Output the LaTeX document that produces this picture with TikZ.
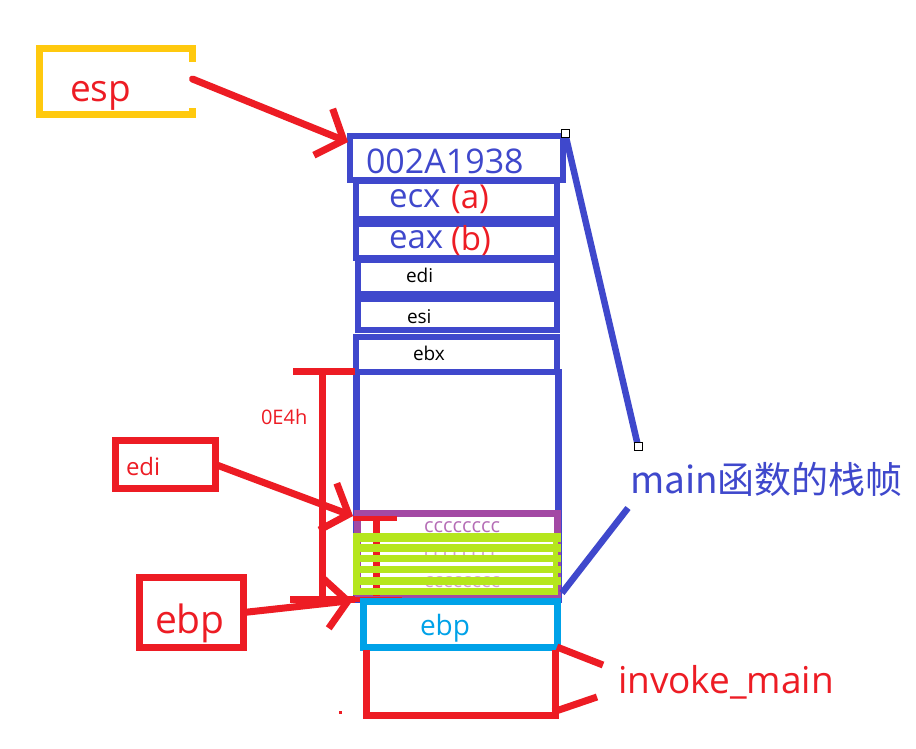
\documentclass[tikz,border=0pt]{standalone}
\usepackage{fontspec}
\setmainfont{Open Sans}
\newfontfamily\cjk{Noto Sans CJK SC}
\usetikzlibrary{arrows.meta}
\definecolor{myblue}{HTML}{3F48CC}
\definecolor{myred}{HTML}{ED1C24}
\definecolor{myyellow}{HTML}{FFC90E}
\definecolor{mycyan}{HTML}{00A2E8}
\definecolor{mypurple}{HTML}{A349A4}
\definecolor{mylime}{HTML}{B5E61D}
\definecolor{mypink}{HTML}{CFA0D0}
\tikzset{
  stackbox/.style={draw=myblue, line width=6.5pt, inner sep=0pt, outer sep=0pt},
  plainbox/.style={inner sep=0pt, outer sep=0pt},
  redline/.style={draw=myred, line width=7pt},
  redarrow/.style={draw=myred, line width=7pt, line cap=round, -{Straight Barb[length=22pt,width=50pt]}},
  bluelink/.style={draw=myblue, line width=6.5pt},
  txt/.style={inner sep=0pt, outer sep=0pt, anchor=base west},
  handle/.style={draw=black, fill=white, line width=1pt, minimum size=8pt, inner sep=0pt},
}
\begin{document}
\begin{tikzpicture}[x=1pt,y=-1pt]
\useasboundingbox[fill=white] (0,0) rectangle (916,748);

% ---- stack column (blue) ----
\node[stackbox, minimum width=202pt, minimum height=227.5pt] (frame) at (457.5,485.75) {};
\node[stackbox, minimum width=213pt, minimum height=44pt] (b0) at (456.5,158) {};
\node[stackbox, minimum width=201pt, minimum height=38pt] (b1) at (456.5,200) {};
\node[stackbox, minimum width=201pt, minimum height=34pt] (b2) at (456.5,241) {};
\node[stackbox, minimum width=199pt, minimum height=34pt] (b3) at (457.5,277) {};
\node[stackbox, minimum width=199pt, minimum height=31pt] (b4) at (457.5,314.5) {};
\node[stackbox, minimum width=201pt, minimum height=35pt] (b5) at (456.5,354.5) {};

\node[txt, text=myblue, font=\fontsize{34}{34}\selectfont] (t0) at (366,173) {002A1938};
\node[txt, text=myblue, font=\fontsize{33}{33}\selectfont] (t1) at (389,207) {ecx};
\node[txt, text=myred, font=\fontsize{33}{33}\selectfont] (t1a) at (451,208) {(a)};
\node[txt, text=myblue, font=\fontsize{33}{33}\selectfont] (t2) at (389,248) {eax};
\node[txt, text=myred, font=\fontsize{33}{33}\selectfont] (t2b) at (451,250) {(b)};
\node[txt, text=black, font=\fontsize{19}{19}\selectfont] (t3) at (406,282) {edi};
\node[txt, text=black, font=\fontsize{19}{19}\selectfont] (t4) at (407,323) {esi};
\node[txt, text=black, font=\fontsize{19}{19}\selectfont] (t5) at (413,360) {ebx};

% ---- purple cell ----
\node[plainbox, draw=mypurple, line width=7pt, minimum width=200pt, minimum height=84pt] (pbox) at (457,555) {};
\node[txt, text=mypurple!80, font=\fontsize{20}{20}\selectfont] (cc1) at (424,532) {cccccccc};
\node[txt, text=mypink, font=\fontsize{20}{20}\selectfont] (cc2) at (424,559) {cccccccc};
\node[txt, text=mypink, font=\fontsize{20}{20}\selectfont] (cc3) at (424,587) {cccccccc};

% red marks under the green
\draw[myred, line width=5pt] (353,518) -- (397,518);
\draw[myred, line width=7pt] (376.5,517) -- (376.5,596);

% ---- green bars ----
\fill[mylime] (353,533) rectangle (561,542);
\fill[mylime] (353,544) rectangle (561,552);
\fill[mylime] (353,555) rectangle (561,562);
\fill[mylime] (353,566) rectangle (561,573);
\fill[mylime] (353,577) rectangle (561,585);
\fill[mylime] (353,588) rectangle (558,595);
\fill[mylime] (353,533) rectangle (360,595);
\fill[mylime] (553,533) rectangle (558,595);

% ---- 0E4h bracket ----
\draw[redline] (293,371.5) -- (355,371.5);
\draw[redline] (322.5,371.5) -- (322.5,599);
\draw[redline] (290,599) -- (355,599);
\draw[myred, line width=5pt] (355,599.5) -- (402,599.5);
\node[txt, text=myred, font=\fontsize{20}{20}\selectfont] (l0e4) at (261,424) {0E4h};

% ---- ebp cell and caller frame ----
\node[plainbox, draw=mycyan, line width=7pt, minimum width=194pt, minimum height=46pt] (cyanbox) at (460,624) {};
\node[txt, text=mycyan, font=\fontsize{28}{28}\selectfont] (tebp) at (420,635) {ebp};
\coordinate (rtl) at (366.5,650);
\coordinate (rbl) at (366.5,715.5);
\coordinate (rbr) at (555.5,715.5);
\coordinate (rtr) at (555.5,650);
\draw[redline] (rtl) -- (rbl) -- (rbr) -- (rtr);
\node[txt, text=myred, font=\fontsize{37}{37}\selectfont] (invoke) at (618,693) {invoke\_main};
\coordinate (iu) at (603,665);
\coordinate (il) at (597,697);
\draw[myred, line width=7pt] (cyanbox.south east) -- (iu);
\draw[myred, line width=7pt] (553,712) -- (il);
\fill[myred] (339,711) rectangle (342,714);

% ---- pointer boxes ----
\node[plainbox, minimum width=153pt, minimum height=66pt] (espbox) at (116,81) {};
\draw[myyellow, line width=7pt] (espbox.east) ++(0,-19) -- (espbox.north east) -- (espbox.north west) -- (espbox.south west) -- (espbox.south east) -- ++(0,-6);
\node[txt, text=myred, font=\fontsize{37}{37}\selectfont] (tesp) at (70,101) {esp};

\node[plainbox, draw=myred, line width=7pt, minimum width=100pt, minimum height=48pt] (edibox) at (165.5,464.5) {};
\node[txt, text=myred, font=\fontsize{24}{24}\selectfont] (tedi) at (126,475) {edi};

\node[plainbox, draw=myred, line width=7pt, minimum width=104pt, minimum height=70pt] (ebpbox) at (191.5,612.5) {};
\node[txt, text=myred, font=\fontsize{39}{39}\selectfont] (tebp2) at (155,633) {ebp};

\draw[redarrow] ([yshift=2pt]espbox.east) -- ([xshift=-2pt,yshift=-6pt]b0.north west);
\draw[redarrow] (edibox.east) -- ([xshift=-4pt,yshift=-3pt]pbox.north west);
\draw[redarrow] (ebpbox.east) -- ([xshift=-4pt,yshift=-1pt]frame.south west);

% ---- main frame annotation ----
\coordinate (h1) at (565,133);
\coordinate (h2) at (638,446);
\draw[bluelink] (h1) -- (h2);
\node[txt, text=myblue, font=\cjk\fontsize{37}{37}\selectfont] (mainlbl) at (630,493) {main函数的栈帧};
\coordinate (ml) at (628,508);
\draw[bluelink] (ml) -- (562,593);
\node[handle] (hs1) at (h1) {};
\node[handle] (hs2) at (h2) {};
\end{tikzpicture}
\end{document}
